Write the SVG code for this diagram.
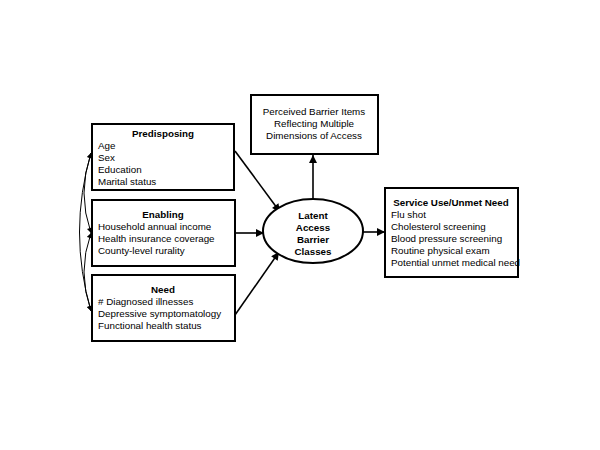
<svg xmlns="http://www.w3.org/2000/svg" width="600" height="450" viewBox="0 0 600 450">
<style>
.box{fill:#fff;stroke:#000;stroke-width:2}
.t{font-family:"Liberation Sans",Arial,sans-serif;font-size:9.8px;fill:#000}
.b{font-weight:bold;text-anchor:middle}
.c{text-anchor:middle}
.ln{fill:none;stroke:#000;stroke-width:1.6}
.cv{fill:none;stroke:#000;stroke-width:1}
</style>
<defs>
<marker id="ah" viewBox="0 0 10 10" refX="10" refY="5" markerWidth="9" markerHeight="8" orient="auto-start-reverse" markerUnits="userSpaceOnUse">
<path d="M0,0 L10,5 L0,10 z" fill="#000"/>
</marker>
<marker id="ahs" viewBox="0 0 10 10" refX="10" refY="5" markerWidth="6" markerHeight="5" orient="auto-start-reverse" markerUnits="userSpaceOnUse">
<path d="M0,0 L10,5 L0,10 z" fill="#000"/>
</marker>
</defs>
<rect width="600" height="450" fill="#fff"/>
<g id="connectors">
<line class="ln" x1="235" y1="151" x2="280" y2="212" marker-end="url(#ah)"/>
<line class="ln" x1="235" y1="233" x2="264" y2="233" marker-end="url(#ah)"/>
<line class="ln" x1="235" y1="315" x2="279" y2="252" marker-end="url(#ah)"/>
<line class="ln" x1="313" y1="199" x2="313" y2="155" marker-end="url(#ah)"/>
<line class="ln" x1="363" y1="232" x2="385" y2="232" marker-end="url(#ah)"/>
<path class="cv" d="M91,153 Q77,193 91,233" marker-start="url(#ahs)" marker-end="url(#ahs)"/>
<path class="cv" d="M91,233 Q77,272 91,311" marker-start="url(#ahs)" marker-end="url(#ahs)"/>
<path class="cv" d="M91,153 Q68,232 91,311" marker-start="url(#ahs)" marker-end="url(#ahs)"/>
</g>
<g id="predisposing">
<rect class="box" x="92" y="124" width="142" height="66"/>
<text class="t b" x="163" y="137">Predisposing</text>
<text class="t" x="98" y="149">Age</text>
<text class="t" x="98" y="161">Sex</text>
<text class="t" x="98" y="173">Education</text>
<text class="t" x="98" y="185">Marital status</text>
</g>
<g id="enabling">
<rect class="box" x="92" y="200" width="143" height="66"/>
<text class="t b" x="163" y="218">Enabling</text>
<text class="t" x="98" y="230">Household annual income</text>
<text class="t" x="98" y="242">Health insurance coverage</text>
<text class="t" x="98" y="254">County-level rurality</text>
</g>
<g id="need">
<rect class="box" x="92" y="275" width="143" height="66"/>
<text class="t b" x="163" y="293">Need</text>
<text class="t" x="98" y="305">&#35; Diagnosed illnesses</text>
<text class="t" x="98" y="317">Depressive symptomatology</text>
<text class="t" x="98" y="329">Functional health status</text>
</g>
<g id="perceived">
<rect class="box" x="251" y="95" width="127" height="59"/>
<text class="t c" x="314" y="115">Perceived Barrier Items</text>
<text class="t c" x="314" y="127">Reflecting Multiple</text>
<text class="t c" x="314" y="139">Dimensions of Access</text>
</g>
<g id="latent">
<ellipse cx="313" cy="231" rx="50" ry="32" fill="#fff" stroke="#000" stroke-width="2"/>
<text class="t b" x="313" y="219">Latent</text>
<text class="t b" x="313" y="231">Access</text>
<text class="t b" x="313" y="243">Barrier</text>
<text class="t b" x="313" y="255">Classes</text>
</g>
<g id="service">
<rect class="box" x="385" y="188" width="133" height="89"/>
<text class="t b" x="451" y="206">Service Use/Unmet Need</text>
<text class="t" x="391" y="218">Flu shot</text>
<text class="t" x="391" y="230">Cholesterol screening</text>
<text class="t" x="391" y="242">Blood pressure screening</text>
<text class="t" x="391" y="254">Routine physical exam</text>
<text class="t" x="391" y="266">Potential unmet medical need</text>
</g>
</svg>
